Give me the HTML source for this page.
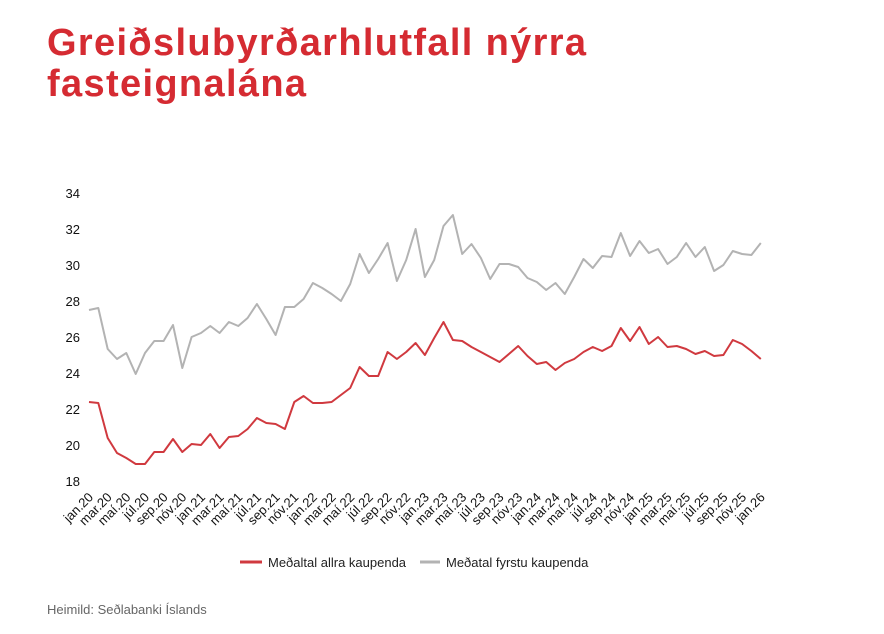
<!DOCTYPE html>
<html><head><meta charset="utf-8"><style>
body{margin:0;background:#fff;width:884px;height:634px;overflow:hidden;font-family:"Liberation Sans",sans-serif}
h1{position:absolute;left:47px;top:23px;margin:0;font-size:38px;line-height:41px;font-weight:bold;color:#d52b32;letter-spacing:1.35px}
</style></head><body>
<h1>Greiðslubyrðarhlutfall nýrra<br>fasteignalána</h1>
<svg id="s" width="884" height="634" style="position:absolute;left:0;top:0" font-family="Liberation Sans, sans-serif"></svg>
<script>
const g=[310,308,349,359,353,374,353,341,341,325,368,337,333,326,333,322,326,318,304,319,335,307,307,299,283,288,294,301,284,254,273,259,243,281,260,229,277,260,226,215,254,244,258,279,264,264,267,278,282,290,283,294,277,259,268,256,257,233,256,241,253,249,264,257,243,257,247,271,265,251,254,255,243];
const r=[402,403,438,453,458,464,464,452,452,439,452,444,445,434,448,437,436,429,418,423,424,429,402,396,403,403,402,395,388,367,376,376,352,359,352,343,355,338,322,340,341,347,352,357,362,354,346,356,364,362,370,363,359,352,347,351,346,328,341,327,344,337,347,346,349,354,351,356,355,340,344,351,359];
const X=i=>89+i*9.33;
let h='';
const pl=(a,c)=>'<polyline fill="none" stroke="'+c+'" stroke-width="2" stroke-linejoin="round" points="'+a.map((y,i)=>X(i).toFixed(1)+','+y).join(' ')+'"/>';
h+=pl(g,'#b3b3b3')+pl(r,'#d0393f');
for(let v=18;v<=34;v+=2){const y=481-(v-18)*18;h+='<text x="80" y="'+(y+5)+'" font-size="13" text-anchor="end" fill="#111">'+v+'</text>';}
const m=['jan','mar','maí','júl','sep','nóv'];
for(let i=0;i<=72;i+=2){const yr=20+Math.floor(i/12);const lab=m[(i%12)/2]+'.'+yr;const x=X(i)+5,y=498;
h+='<text transform="translate('+x+','+y+') rotate(-45)" font-size="13" text-anchor="end" fill="#111">'+lab+'</text>';}
h+='<line x1="240" y1="562" x2="262" y2="562" stroke="#d0393f" stroke-width="3"/><text x="268" y="567" font-size="13" fill="#222">Meðaltal allra kaupenda</text>';
h+='<line x1="420" y1="562" x2="440" y2="562" stroke="#b3b3b3" stroke-width="3"/><text x="446" y="567" font-size="13" fill="#222">Meðatal fyrstu kaupenda</text>';
h+='<text x="47" y="614" font-size="13" fill="#666">Heimild: Seðlabanki Íslands</text>';
document.getElementById('s').innerHTML=h;
</script>
</body></html>
